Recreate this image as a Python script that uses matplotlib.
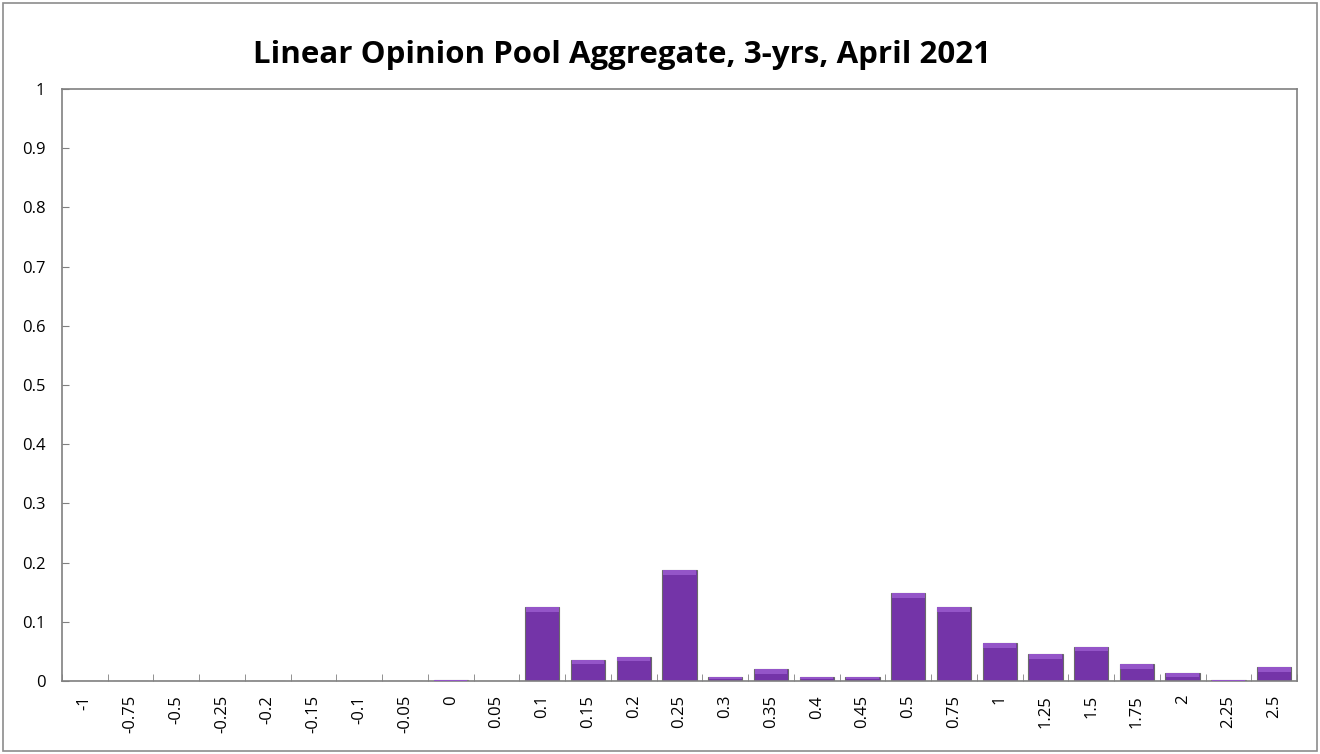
import matplotlib.pyplot as plt
import numpy as np
from matplotlib.patches import Rectangle

# categories (change in rate) and aggregate probabilities
categories = ["-1", "-0.75", "-0.5", "-0.25", "-0.2", "-0.15", "-0.1", "-0.05", "0",
              "0.05", "0.1", "0.15", "0.2", "0.25", "0.3", "0.35", "0.4", "0.45",
              "0.5", "0.75", "1", "1.25", "1.5", "1.75", "2", "2.25", "2.5"]
probs = [0, 0, 0, 0, 0, 0, 0, 0, 0.001,
         0, 0.125, 0.036, 0.041, 0.1875, 0.007, 0.02, 0.007, 0.007,
         0.148, 0.125, 0.064, 0.046, 0.058, 0.029, 0.013, 0.001, 0.024]
y_ticks = [0, 0.1, 0.2, 0.3, 0.4, 0.5, 0.6, 0.7, 0.8, 0.9, 1]
y_labels = ["0", "0.1", "0.2", "0.3", "0.4", "0.5", "0.6", "0.7", "0.8", "0.9", "1"]

plt.rcParams['font.family'] = ['Open Sans', 'DejaVu Sans']

fig = plt.figure(figsize=(13.2, 7.54), dpi=100)
ax = fig.add_axes([62 / 1320, 1 - 681 / 754, (1297 - 62) / 1320, (681 - 89) / 754])

x = np.arange(len(categories))
vals = np.array(probs)
ax.bar(x, vals, width=0.75, color='#7434A8', edgecolor='#6a6a6a', linewidth=0.8, zorder=2)
# lighter bevel band along the top of each bar
band = np.minimum(vals * 0.5, 0.008)
ax.bar(x, band, bottom=vals - band, width=0.72, color='#9455C8', linewidth=0, zorder=3)

ax.set_xlim(-0.5, len(categories) - 0.5)
ax.set_ylim(0, 1)

ax.set_yticks(y_ticks)
ax.set_yticklabels(y_labels, fontsize=12)
ax.tick_params(axis='y', direction='in', length=5, color='#808080', pad=12)

ax.set_xticks(x)
ax.set_xticklabels(categories, rotation=90, fontsize=12)
ax.tick_params(axis='x', length=0, pad=10)
ax.set_xticks(np.arange(len(categories) + 1) - 0.5, minor=True)
ax.tick_params(axis='x', which='minor', direction='in', length=5, color='#808080')

for s in ax.spines.values():
    s.set_color('#808080')
    s.set_linewidth(1.2)

fig.text(0.471, 0.927, 'Linear Opinion Pool Aggregate, 3-yrs, April 2021',
         ha='center', va='center', fontsize=22.5, fontweight='bold')

# outer chart border
fig.patches.append(Rectangle((3 / 1320, 3 / 754), 1314 / 1320, 748 / 754,
                             transform=fig.transFigure, fill=False,
                             edgecolor='#8c8c8c', linewidth=1.2))

fig.savefig('out.png', dpi=100)
